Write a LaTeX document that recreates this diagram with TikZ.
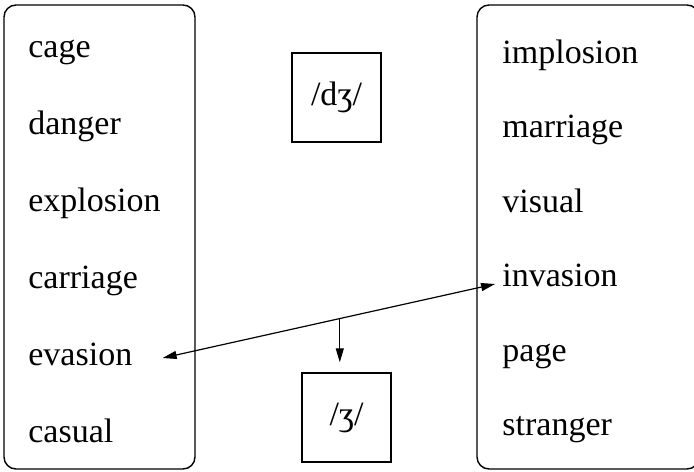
\documentclass[tikz,border=0pt]{standalone}
\usepackage{fontspec}
\setmainfont{Liberation Serif}
\usetikzlibrary{positioning, arrows.meta}

\begin{document}
\begin{tikzpicture}[
        x=0.5pt, y=-0.5pt,
        panel/.style={draw=black, line width=0.7pt, rounded corners=6pt},
        word/.style={anchor=base west, inner sep=0pt, font=\fontsize{17}{20}\selectfont},
        sound/.style={rectangle, draw=black, line width=0.7pt, minimum width=44.5pt, minimum height=44.5pt, inner sep=0pt, font=\fontsize{17}{20}\selectfont},
        arrow/.style={-{Triangle[length=7pt, width=4pt]}, line width=0.6pt}
    ]
        \useasboundingbox (0,0) rectangle (694,471);

        % word columns
        \draw[panel] (4,5) rectangle (195,469);
        \draw[panel] (477,5) rectangle (699,469);

        \node[word] (cage) at (28,57) {cage};
        \node[word] (danger) at (28,134) {danger};
        \node[word] (explosion) at (28,211) {explosion};
        \node[word] (carriage) at (28,288) {carriage};
        \node[word] (evasion) at (28,365) {evasion};
        \node[word] (casual) at (28,442) {casual};

        \node[word] (implosion) at (502,63) {implosion};
        \node[word] (marriage) at (502,137) {marriage};
        \node[word] (visual) at (502,212) {visual};
        \node[word] (invasion) at (502,286) {invasion};
        \node[word] (page) at (502,361) {page};
        \node[word] (stranger) at (502,435) {stranger};

        % sounds
        \node[sound] (dzh) at (336.5,97.5) {/dʒ/};
        \node[sound] (zh) at (346.5,417.5) {/ʒ/};

        \draw[arrow, {Triangle[length=7pt, width=4pt]}-{Triangle[length=7pt, width=4pt]}] ([xshift=15pt, yshift=3.5pt]evasion.base east) -- coordinate[pos=0.533] (split) ([xshift=-3.5pt, yshift=1pt]invasion.base west);
        \draw[arrow] (split) -- ([yshift=5pt]split |- zh.north);
    \end{tikzpicture}
\end{document}
